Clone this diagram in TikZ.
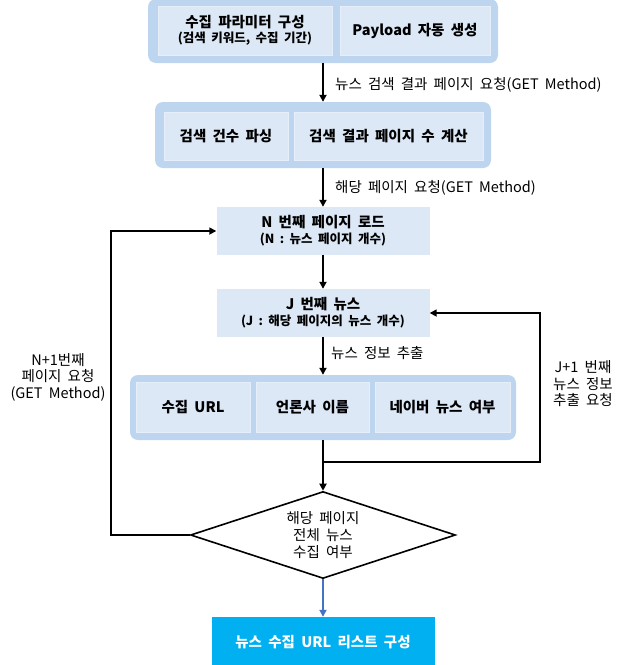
\documentclass[tikz,border=0pt]{standalone}
\usepackage{fontspec}
\setmainfont[WordSpace=1.9]{Noto Sans CJK KR}
\usetikzlibrary{shapes.geometric,arrows.meta}
\definecolor{grpfill}{HTML}{BDD5EE}
\definecolor{infill}{HTML}{DCE8F6}
\definecolor{finalfill}{HTML}{00B0F0}
\definecolor{bluearrow}{HTML}{4472C4}
\begin{document}
\begin{tikzpicture}[x=1pt,y=-1pt,
  grpbox/.style={fill=grpfill, rounded corners=8pt, inner sep=0pt},
  inbox/.style={fill=infill, draw=infill!70!white, line width=1pt, inner sep=0pt, align=center,
     font=\bfseries\fontsize{14.5}{17}\selectfont},
  pagebox/.style={fill=infill, inner sep=0pt, align=center, minimum width=213pt, minimum height=48pt,
     font=\bfseries\fontsize{14.5}{17}\selectfont},
  flow/.style={line width=2.2pt, -{Triangle[length=7pt,width=7pt]}},
  loopline/.style={line width=1.6pt, -{Triangle[length=7pt,width=7pt]}},
  lbl/.style={font=\fontsize{14.5}{16.5}\selectfont, align=center, inner sep=0pt}
]
\useasboundingbox (0,0) rectangle (628,665);
% top group
\node[grpbox, minimum width=350pt, minimum height=64pt] (grpA) at (323,31) {};
\node[inbox, minimum width=174pt, minimum height=49pt] (a1) at (245,30.5)
  {수집 파라미터 구성\\[-2pt]{\fontsize{12.5}{14}\selectfont (검색 키워드, 수집 기간)}};
\node[inbox, minimum width=150pt, minimum height=49pt] (a2) at (415,30.5) {Payload 자동 생성};
% second group
\node[grpbox, minimum width=336pt, minimum height=66pt] (grpB) at (323,135) {};
\node[inbox, minimum width=124pt, minimum height=48pt] (b1) at (226,136) {검색 건수 파싱};
\node[inbox, minimum width=189pt, minimum height=48pt] (b2) at (388.5,136) {검색 결과 페이지 수 계산};
% page boxes
\node[pagebox] (nbox) at (323,231) {N 번째 페이지 로드\\[-1pt]{\fontsize{12.5}{14}\selectfont (N : 뉴스 페이지 개수)}};
\node[pagebox] (jbox) at (323,313) {J 번째 뉴스\\[-1pt]{\fontsize{12.5}{14}\selectfont (J : 해당 페이지의 뉴스 개수)}};
% third group
\node[grpbox, minimum width=386pt, minimum height=65pt] (grpC) at (323,407.5) {};
\node[inbox, minimum width=114pt, minimum height=50pt] (c1) at (193,407) {수집 URL};
\node[inbox, minimum width=113pt, minimum height=50pt] (c2) at (312.5,407) {언론사 이름};
\node[inbox, minimum width=135pt, minimum height=50pt] (c3) at (442.5,407) {네이버 뉴스 여부};
% decision
\node[draw, line width=1.6pt, shape=diamond, aspect=2.6, inner sep=0pt,
      minimum width=265pt, minimum height=87pt, align=center,
      font=\fontsize{14.5}{17}\selectfont] (dia) at (323,535) {해당 페이지\\전체 뉴스\\수집 여부};
% final
\node[fill=finalfill, text=white, inner sep=0pt, minimum width=223pt, minimum height=50pt,
      font=\bfseries\fontsize{14.5}{17}\selectfont] (final) at (323,642) {뉴스 수집 URL 리스트 구성};
% connectors
\draw[flow] (grpA.south) -- (grpB.north);
\draw[flow] (grpB.south) -- (nbox.north);
\draw[flow] (nbox.south) -- (jbox.north);
\draw[flow] (jbox.south) -- (grpC.north);
\coordinate (jn) at (323,462);
\coordinate (rtop) at (540,313);
\coordinate (ltop) at (111,231);
\draw[line width=2.2pt] (grpC.south) -- (jn);
\draw[flow] (jn) -- (dia.north);
\draw[loopline] (jn) -| (rtop) -- (jbox.east);
\draw[loopline] (dia.west) -| (ltop) -- (nbox.west);
\draw[line width=2pt, bluearrow, -{Triangle[length=7pt,width=7pt]}] (dia.south) -- (final.north);
% labels
\node[lbl, anchor=west] (l1) at (335,85) {뉴스 검색 결과 페이지 요청(GET Method)};
\node[lbl, anchor=west] (l2) at (335,188) {해당 페이지 요청(GET Method)};
\node[lbl, anchor=west] (l3) at (331,353) {뉴스 정보 추출};
\node[lbl] (l4) at (583,384) {J+1 번째\\뉴스 정보\\추출 요청};
\node[lbl] (l5) at (58,377) {N+1번째\\페이지 요청\\(GET Method)};
\end{tikzpicture}
\end{document}
